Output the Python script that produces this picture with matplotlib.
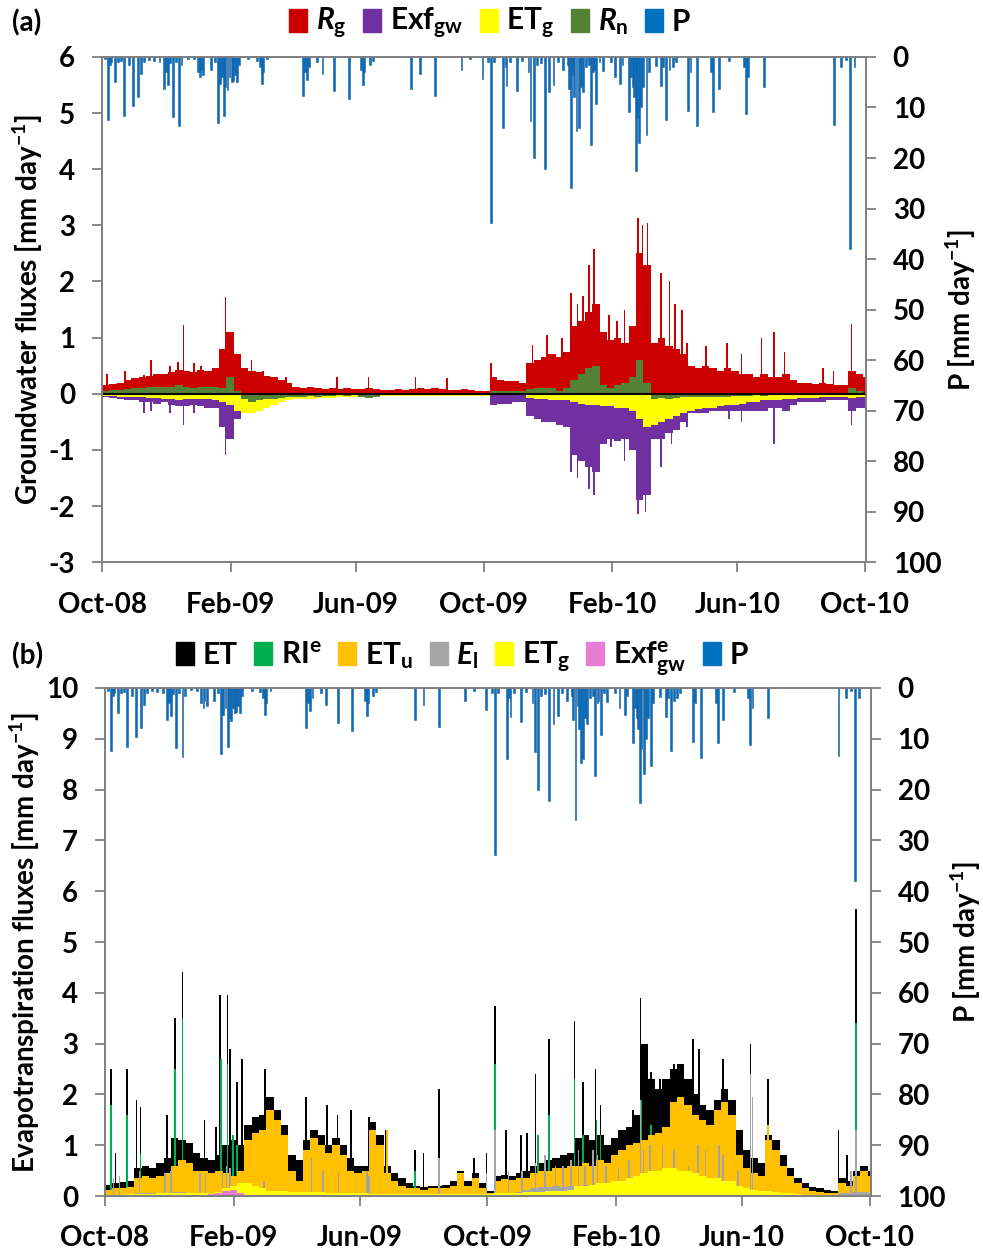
import numpy as np
import matplotlib
matplotlib.use("Agg")
import matplotlib.pyplot as plt
import matplotlib.dates as mdates
from matplotlib.patches import Patch

plt.rcParams['font.family'] = ['Lato', 'DejaVu Sans']
plt.rcParams['font.weight'] = 'bold'
plt.rcParams['axes.unicode_minus'] = False
plt.rcParams['mathtext.fontset'] = 'custom'
plt.rcParams['mathtext.rm'] = 'Lato:bold'
plt.rcParams['mathtext.it'] = 'Lato:italic:bold'
plt.rcParams['mathtext.bf'] = 'Lato:bold'

start = np.datetime64('2008-10-01')

# ---- precipitation events (day since 1 Oct 2008, mm/day) ----
p_day = [3, 6, 8, 9, 12, 15, 18, 21, 26, 30, 34, 37, 40, 45, 50, 55, 59, 61, 63, 65, 68, 71, 74, 76,
         82, 88, 92, 94, 95, 97, 104, 108, 111, 113, 115, 117, 118, 120, 122, 124, 125, 127, 129, 131,
         140, 148, 151, 153, 154, 158, 192, 194, 196, 198, 206, 211, 222, 236, 248, 250, 251, 256, 259,
         296, 304, 319, 344, 352, 364, 369, 372, 375, 384, 386, 387, 390, 397, 402, 408, 410, 413, 416,
         420, 424, 428, 432, 436, 441, 446, 447, 449, 451, 452, 454, 456, 458, 460, 463, 466, 468, 470,
         471, 473, 476, 479, 487, 491, 496, 498, 504, 506, 508, 509, 511, 512, 514, 516, 518, 521, 523,
         530, 535, 537, 540, 543, 546, 549, 561, 563, 569, 583, 585, 590, 600, 614, 616, 618, 633, 700,
         707, 712, 716, 720]
p_mm = [0.5, 12.5, 1.5, 1.0, 4.9, 1.0, 0.8, 11.7, 1.5, 9.7, 7.9, 3.3, 1.0, 0.6, 0.8, 1.0, 6.4, 3.0, 5.6, 1.2,
        11.9, 1.0, 13.6, 1.5, 0.4, 0.5, 3.0, 4.0, 2.5, 3.5, 2.5, 1.0, 13.0, 5.4, 4.0, 11.7, 6.0, 6.5, 4.0,
        5.0, 4.8, 3.6, 5.0, 1.5, 0.5, 0.8, 2.0, 5.4, 3.0, 0.5, 7.8, 3.0, 4.6, 2.0, 1.0, 3.3, 6.8, 8.4, 2.5,
        5.5, 3.0, 1.5, 0.8, 6.4, 3.3, 7.7, 2.6, 0.5, 4.4, 1.0, 32.9, 1.0, 14.0, 2.0, 5.7, 1.0, 6.7, 0.8,
        3.0, 12.6, 20.0, 1.5, 1.2, 22.2, 7.0, 5.6, 1.0, 2.6, 1.5, 6.4, 26.0, 3.5, 8.0, 14.7, 14.0, 6.0,
        7.0, 2.0, 1.5, 17.4, 3.0, 2.5, 9.3, 1.0, 2.8, 1.0, 4.0, 5.4, 1.5, 10.8, 4.0, 6.0, 8.0, 22.6, 12.0,
        17.0, 10.0, 6.0, 15.4, 3.0, 1.8, 5.7, 2.0, 12.4, 2.5, 2.0, 1.0, 10.7, 3.0, 13.7, 3.0, 10.8, 6.4,
        0.8, 2.0, 11.2, 4.0, 6.0, 13.4, 2.0, 0.6, 38.0, 2.0]

# ---- panel (a): weekly groundwater fluxes (mm/day), week 0 starts 1 Oct 2008 ----
rg = [0.15, 0.18, 0.2, 0.25, 0.28, 0.3, 0.32, 0.35, 0.35, 0.38, 0.42, 0.4, 0.38, 0.42, 0.4, 0.45,
      0.8, 1.1, 0.7, 0.45, 0.4, 0.38, 0.32, 0.3, 0.25, 0.2,
      0.12, 0.1, 0.12, 0.1, 0.08, 0.1, 0.08, 0.1, 0.08, 0.08, 0.1, 0.08, 0.06, 0.06, 0.08, 0.06, 0.08,
      0.1, 0.08, 0.1, 0.08, 0.06, 0.06, 0.08, 0.06, 0.05, 0.05,
      0.3, 0.25, 0.22, 0.22, 0.2, 0.55, 0.6, 0.65, 0.7, 0.65, 0.75, 1.2, 1.3, 1.45, 1.6,
      1.1, 0.95, 1.0, 0.9, 1.2, 2.5, 2.3, 0.9, 1.0, 0.85, 0.8, 0.7,
      0.5, 0.45, 0.5, 0.45, 0.4, 0.45, 0.4, 0.35, 0.35, 0.3, 0.35, 0.3, 0.3, 0.35, 0.25,
      0.2, 0.2, 0.18, 0.2, 0.18, 0.15, 0.15, 0.4, 0.35, 0.3]
exf = [0.06, 0.08, 0.1, 0.12, 0.12, 0.15, 0.15, 0.18, 0.15, 0.2, 0.22, 0.22, 0.2, 0.22, 0.25, 0.25,
       0.6, 0.8, 0.45, 0.3, 0.25, 0.2, 0.15, 0.1, 0.08, 0.06,
       0.05, 0.04, 0.05, 0.04, 0.03, 0.04, 0.03, 0.04, 0.03, 0.03, 0.04, 0.03, 0.03, 0.03, 0.03, 0.03,
       0.04, 0.03, 0.03, 0.04, 0.03, 0.03, 0.03, 0.03, 0.03, 0.03, 0.03,
       0.2, 0.18, 0.18, 0.15, 0.15, 0.4, 0.45, 0.5, 0.5, 0.55, 0.6, 1.1, 1.2, 1.3, 1.4,
       0.9, 0.8, 0.85, 0.8, 1.0, 1.9, 1.8, 0.8, 0.8, 0.7, 0.65, 0.5,
       0.35, 0.35, 0.35, 0.3, 0.3, 0.3, 0.3, 0.3, 0.3, 0.3, 0.3, 0.25, 0.25, 0.3, 0.2,
       0.15, 0.15, 0.15, 0.15, 0.12, 0.12, 0.12, 0.3, 0.25, 0.25]
etg_a = [0.04, 0.04, 0.05, 0.05, 0.06, 0.06, 0.08, 0.08, 0.1, 0.1, 0.12, 0.1, 0.1, 0.1, 0.1, 0.12,
         0.15, 0.2, 0.3, 0.35, 0.35, 0.3, 0.25, 0.2, 0.15, 0.12,
         0.1, 0.1, 0.1, 0.08, 0.08, 0.08, 0.06, 0.06, 0.06, 0.05,
         0.04, 0.04, 0.04, 0.04, 0.04, 0.04, 0.04, 0.04, 0.04, 0.04, 0.04, 0.04, 0.04, 0.04, 0.04, 0.04, 0.04,
         0.03, 0.03, 0.03, 0.03, 0.03, 0.08, 0.1, 0.1, 0.12, 0.12, 0.12,
         0.15, 0.18, 0.2, 0.2, 0.22, 0.22, 0.25, 0.25, 0.3, 0.45, 0.6, 0.55, 0.5, 0.45, 0.4, 0.35,
         0.3, 0.28, 0.25, 0.25, 0.22, 0.2, 0.2, 0.18,
         0.15, 0.15, 0.12, 0.12, 0.12, 0.1, 0.1, 0.08, 0.08, 0.08, 0.06, 0.06, 0.06, 0.05, 0.08, 0.06, 0.05]
rn = [0.05, 0.06, 0.07, 0.08, 0.1, 0.1, 0.12, 0.12, 0.12, 0.12, 0.15, 0.12, 0.1, 0.12, 0.12, 0.12,
      0.1, 0.3, 0.05, -0.1, -0.15, -0.12, -0.1, -0.1, -0.08, -0.06,
      -0.05, -0.05, -0.04, -0.05, -0.04, -0.04, -0.03, -0.04, -0.03, -0.05, -0.08, -0.06, -0.03, -0.03,
      -0.03, -0.02, -0.03, -0.02, -0.02, -0.03, -0.02, -0.02, -0.02, -0.02, -0.02, -0.02, -0.02,
      0.05, 0.05, 0.05, 0.05, 0.05, 0.08, 0.1, 0.1, 0.1, 0.05, 0.1, 0.25, 0.35, 0.45, 0.5,
      0.15, 0.1, 0.15, 0.2, 0.3, 0.6, 0.2,
      -0.1, -0.08, -0.1, -0.08, -0.05, -0.06, -0.05, -0.06, -0.05, -0.05, -0.05, -0.04, -0.04,
      -0.04, -0.03, -0.04, -0.03, -0.03, -0.03, -0.03, -0.03, -0.02, -0.02, -0.02, -0.02, -0.02, -0.02,
      0.1, 0.05, 0.02]

# daily peaks standing out of the weekly envelope
rg_peak_day = [5, 22, 40, 47, 65, 73, 78, 88, 95, 108, 118, 143, 154, 176, 225, 255, 300, 330,
               372, 412, 426, 440, 449, 455, 460, 466, 471, 485, 493, 500, 513, 517, 522, 535, 543,
               548, 555, 560, 578, 598, 612, 631, 643, 653, 690, 700, 717]
rg_peak = [0.35, 0.4, 0.33, 0.6, 0.5, 0.57, 1.23, 0.55, 0.5, 0.4, 1.72, 0.6, 0.4, 0.3, 0.3, 0.3, 0.3, 0.28,
           0.54, 0.87, 1.05, 1.0, 1.8, 1.6, 1.75, 2.3, 2.57, 1.4, 1.3, 1.5, 3.13, 3.0, 3.05, 2.15, 2.0,
           1.6, 1.5, 0.9, 0.85, 0.9, 0.7, 1.0, 1.1, 0.75, 0.45, 0.4, 1.24]
exf_peak_day = [40, 47, 65, 78, 88, 98, 118, 449, 455, 466, 471, 476, 487, 500, 513, 520, 535, 545,
                560, 600, 612, 643, 717]
exf_peak = [0.35, 0.3, 0.35, 0.56, 0.35, 0.25, 1.1, 1.4, 1.5, 1.7, 1.8, 1.2, 0.95, 1.2, 2.15, 2.1, 1.3, 0.9,
            0.6, 0.45, 0.5, 0.9, 0.55]

# ---- panel (b): weekly evapotranspiration fluxes (mm/day) ----
et = [0.22, 0.25, 0.28, 0.3, 0.55, 0.6, 0.55, 0.65, 0.75,
      1.15, 1.1, 1.05, 0.85, 0.75, 0.7, 0.8, 1.0, 1.1, 1.0,
      1.4, 1.55, 1.6, 1.95, 1.7, 1.4, 0.8, 0.7,
      1.1, 1.3, 1.2, 1.0, 1.15, 1.0, 0.75, 0.6, 0.6, 1.45, 1.2,
      0.6, 0.45, 0.35, 0.25, 0.2, 0.18, 0.2, 0.2, 0.22, 0.3, 0.5, 0.3, 0.45, 0.25, 0.1,
      0.4, 0.42, 0.4, 0.45, 0.5, 0.6, 0.65, 0.7, 0.75, 0.8, 0.85,
      1.15, 1.2, 1.1, 1.2, 1.0, 1.15, 1.3, 1.35, 1.6,
      3.0, 2.3, 2.1, 2.3, 2.5, 2.6, 2.3, 2.0, 1.8, 1.7, 1.9, 2.1, 1.9,
      1.3, 0.9, 0.75, 0.65, 1.2, 1.1, 0.8, 0.55, 0.35,
      0.25, 0.18, 0.15, 0.12, 0.1, 0.35, 0.3, 0.5, 0.6, 0.5]
etu = [0.12, 0.15, 0.15, 0.18, 0.35, 0.4, 0.35, 0.4, 0.45,
       0.6, 0.7, 0.65, 0.5, 0.5, 0.45, 0.5, 0.45, 0.4, 0.5,
       1.1, 1.25, 1.3, 1.7, 1.5, 1.2, 0.5, 0.3,
       0.9, 1.15, 1.0, 0.85, 1.0, 0.8, 0.5, 0.45, 0.5, 1.3, 1.0,
       0.45, 0.3, 0.2, 0.15, 0.15, 0.12, 0.15, 0.15, 0.15, 0.2, 0.45, 0.2, 0.35, 0.15, 0.05,
       0.3, 0.33, 0.32, 0.35, 0.35, 0.45, 0.5, 0.5, 0.55, 0.55, 0.6,
       0.6, 0.65, 0.6, 0.7, 0.65, 0.8, 0.9, 1.0, 1.05,
       1.1, 1.2, 1.25, 1.35, 1.85, 1.95, 1.8, 1.6, 1.5, 1.4, 1.7, 1.85, 1.6,
       0.8, 0.55, 0.45, 0.4, 1.1, 0.9, 0.6, 0.4, 0.25,
       0.15, 0.1, 0.08, 0.06, 0.05, 0.25, 0.2, 0.4, 0.5, 0.4]
el = [0.02, 0.03, 0.03, 0.03, 0.05, 0.05, 0.05, 0.06, 0.06, 0.08, 0.08, 0.06, 0.06, 0.05, 0.05, 0.06,
      0.08, 0.1, 0.08, 0.05, 0.05, 0.05, 0.05, 0.04, 0.04, 0.03,
      0.04, 0.05, 0.05, 0.04, 0.04, 0.04, 0.03, 0.03, 0.03, 0.04, 0.04, 0.03, 0.02, 0.02,
      0.02, 0.02, 0.02, 0.02, 0.02, 0.02, 0.02, 0.02, 0.02, 0.02, 0.02, 0.02, 0.02,
      0.05, 0.06, 0.06, 0.08, 0.12, 0.15, 0.18, 0.18, 0.2, 0.18, 0.2, 0.2, 0.22, 0.2, 0.2, 0.18, 0.18, 0.15, 0.15, 0.15,
      0.15, 0.15, 0.12, 0.12, 0.12, 0.12, 0.1, 0.1, 0.1, 0.1, 0.1, 0.08, 0.08,
      0.06, 0.05, 0.04, 0.04, 0.04, 0.04, 0.03, 0.03, 0.03,
      0.02, 0.02, 0.02, 0.02, 0.02, 0.05, 0.05, 0.08, 0.08, 0.06]
etg_b = [0.03, 0.03, 0.03, 0.04, 0.04, 0.04, 0.04, 0.05, 0.05, 0.05, 0.05, 0.05, 0.05, 0.06, 0.06, 0.08,
         0.15, 0.2, 0.25, 0.25, 0.2, 0.15,
         0.1, 0.1, 0.1, 0.08, 0.08, 0.08, 0.08, 0.08, 0.06, 0.06, 0.06, 0.06, 0.05, 0.05,
         0.04, 0.04, 0.04, 0.04, 0.04, 0.04, 0.04, 0.04, 0.04, 0.04, 0.04, 0.04, 0.04, 0.04, 0.04, 0.04, 0.04,
         0.05, 0.05, 0.06, 0.06, 0.07, 0.08, 0.08, 0.09, 0.1, 0.1, 0.12,
         0.2, 0.2, 0.22, 0.25, 0.25, 0.3, 0.3, 0.35, 0.4,
         0.45, 0.5, 0.5, 0.55, 0.55, 0.5, 0.5,
         0.45, 0.4, 0.35, 0.35, 0.3, 0.3,
         0.2, 0.15, 0.12, 0.1, 0.1, 0.08, 0.06, 0.05, 0.04,
         0.03, 0.03, 0.03, 0.03, 0.03, 0.03, 0.03, 0.03, 0.03, 0.03]
exf_e = [0.01, 0.01, 0.01, 0.01, 0.01, 0.02, 0.02, 0.02, 0.03, 0.03, 0.03, 0.03, 0.03, 0.03, 0.04, 0.05,
         0.1, 0.12, 0.05, 0.02, 0.02, 0.01, 0.01, 0.01, 0.01, 0.01,
         0.01, 0.01, 0.01, 0.01, 0.01, 0.01, 0.01, 0.01, 0.01, 0.01, 0.01, 0.01, 0.01, 0.01,
         0.01, 0.01, 0.01, 0.01, 0.01, 0.01, 0.01, 0.01, 0.01, 0.01, 0.01, 0.01, 0.01,
         0.01, 0.01, 0.01, 0.01, 0.01, 0.01, 0.01, 0.01, 0.01, 0.01, 0.01, 0.01, 0.01, 0.01, 0.01, 0.01,
         0.01, 0.01, 0.01, 0.01, 0.01, 0.01, 0.01, 0.01, 0.01, 0.01, 0.01, 0.01, 0.01, 0.01, 0.01, 0.01,
         0.01, 0.01, 0.01, 0.01, 0.01, 0.01, 0.01, 0.01, 0.01, 0.01, 0.01, 0.01, 0.01, 0.01, 0.01, 0.01,
         0.01, 0.01, 0.01, 0.01]

et_peak_day = [6, 10, 21, 30, 34, 59, 67, 74, 95, 106, 110, 117, 119, 126, 131, 153, 192, 212, 222, 235,
               252, 268, 296, 304, 319, 352, 364, 372, 383, 397, 403, 411, 424, 448, 456, 468, 473, 504,
               511, 521, 530, 543, 561, 567, 590, 616, 633, 700, 708, 717]
et_peak = [2.5, 0.85, 2.5, 1.9, 1.75, 1.6, 3.5, 4.4, 1.5, 1.35, 3.95, 3.95, 2.9, 2.25, 2.7, 2.5, 1.95, 1.8,
           1.6, 1.7, 1.55, 1.3, 0.9, 0.85, 2.1, 0.75, 0.85, 3.75, 1.3, 1.2, 1.25, 2.4, 3.1, 3.45, 2.25,
           2.5, 1.8, 1.7, 3.9, 2.45, 2.3, 2.6, 3.1, 2.9, 2.7, 3.0, 2.3, 1.3, 0.8, 5.65]
ri_day = [6, 21, 34, 67, 74, 111, 117, 122, 126, 296, 364, 372, 413, 424, 448, 456, 469, 473, 512, 521, 717]
ri = [1.8, 1.6, 0.85, 2.5, 3.5, 2.7, 2.6, 1.2, 1.0, 0.5, 0.3, 2.6, 1.2, 1.6, 2.3, 1.2, 1.5, 1.2, 1.9, 1.4, 3.4]
etu_peak_day = [269, 633]
etu_peak = [1.3, 1.4]
el_peak_day = [8, 14, 33, 57, 63, 91, 96, 112, 116, 119, 152, 197, 208, 223, 250, 252, 319, 364,
               372, 385, 398, 411, 420, 430, 437, 445, 452, 458, 466, 470, 478, 490, 500, 511, 514, 520,
               532, 543, 557, 566, 573, 586, 590, 604, 616, 618, 712, 717]
el_peak = [0.35, 0.4, 0.5, 0.45, 0.5, 0.45, 0.45, 0.5, 0.6, 0.55, 0.3, 0.75, 0.5, 0.45, 0.5, 0.4, 0.75, 0.45,
           1.3, 0.5, 0.5, 0.65, 0.8, 0.6, 0.6, 0.7, 0.9, 0.6, 0.9, 0.8, 0.6, 0.55, 0.7, 1.9, 0.9, 1.0,
           1.0, 0.9, 0.6, 1.0, 0.9, 1.0, 0.8, 0.5, 2.4, 1.95, 0.5, 1.3]


def to_num(days):
    return mdates.date2num(start + np.array(days, dtype='timedelta64[D]'))


week_x = to_num(np.arange(len(rg)) * 7)
p_x = to_num(p_day)

c_rg, c_exf, c_etg, c_rn, c_p = '#CC0000', '#7030A0', '#FFFF00', '#548235', '#0070C0'
c_et, c_ri, c_etu, c_el, c_exfe = '#000000', '#00B050', '#FFC000', '#A5A5A5', '#E77ED3'
spine_c = '#808080'
fs = 20
lfs = 20

fig = plt.figure(figsize=(9.83, 12.52), dpi=100)


def style_axes(ax, ax2):
    for a in (ax, ax2):
        for s in a.spines.values():
            s.set_color(spine_c)
            s.set_linewidth(1.3)
        a.tick_params(axis='both', colors=spine_c, labelcolor='black', labelsize=fs,
                      length=7.2, width=1.3, direction='out', pad=12)
    ax.set_xlim(mdates.date2num(np.datetime64('2008-10-01')), mdates.date2num(np.datetime64('2010-10-02')))
    ax.xaxis.set_major_locator(mdates.MonthLocator(bymonth=[2, 6, 10]))
    ax.xaxis.set_major_formatter(mdates.DateFormatter('%b-%y'))
    ax.tick_params(axis='x', pad=14)
    ax2.set_ylim(100, 0)
    ax2.set_yticks(np.arange(0, 101, 10))
    ax2.set_ylabel('P [mm day$^{-1}$]', fontsize=lfs, fontweight='bold', labelpad=2)


# ---------------- panel (a) ----------------
ax = fig.add_axes([0.1038, 0.551, 0.7772, 0.4035])
ax.bar(week_x, rg, width=7, align='edge', color=c_rg, lw=0)
ax.bar(to_num(rg_peak_day), rg_peak, width=1.6, color=c_rg, lw=0)
ax.bar(week_x, -np.array(exf), width=7, align='edge', color=c_exf, lw=0)
ax.bar(to_num(exf_peak_day), -np.array(exf_peak), width=1.6, color=c_exf, lw=0)
ax.bar(week_x, -np.array(etg_a), width=7, align='edge', color=c_etg, lw=0)
ax.bar(week_x, rn, width=7, align='edge', color=c_rn, lw=0)
ax.axhline(0, color='black', lw=1.5)
ax.set_ylim(-3, 6)
ax.set_yticks(np.arange(-3, 7, 1))
ax.set_ylabel('Groundwater fluxes [mm day$^{-1}$]', fontsize=lfs, fontweight='bold', labelpad=3)
ax2 = ax.twinx()
ax2.bar(p_x, p_mm, width=1.8, color=c_p, edgecolor='#1F5A9A', lw=0.4)
style_axes(ax, ax2)

fig.text(0.012, 0.982, '(a)', fontsize=fs, fontweight='bold', va='center')
leg_a = [Patch(color=c_rg), Patch(color=c_exf), Patch(color=c_etg), Patch(color=c_rn), Patch(color=c_p)]
fig.legend(leg_a, [r'$\mathit{R}_\mathrm{g}$', r'Exf$_\mathrm{gw}$', r'ET$_\mathrm{g}$',
                   r'$\mathit{R}_\mathrm{n}$', 'P'],
           loc='center', bbox_to_anchor=(0.498, 0.981), ncol=5, frameon=False, fontsize=21.5,
           handlelength=0.6, handleheight=0.8, handletextpad=0.3, columnspacing=0.55)

# ---------------- panel (b) ----------------
bx = fig.add_axes([0.1068, 0.0447, 0.7792, 0.4058])
bx.bar(week_x, et, width=7, align='edge', color=c_et, lw=0)
bx.bar(to_num(et_peak_day), et_peak, width=1.6, color=c_et, lw=0)
bx.bar(to_num(ri_day), ri, width=1.6, color=c_ri, lw=0)
bx.bar(week_x, etu, width=7, align='edge', color=c_etu, lw=0)
bx.bar(to_num(etu_peak_day), etu_peak, width=1.6, color=c_etu, lw=0)
bx.bar(week_x, el, width=7, align='edge', color=c_el, lw=0)
bx.bar(to_num(el_peak_day), el_peak, width=1.6, color=c_el, lw=0)
bx.bar(week_x, etg_b, width=7, align='edge', color=c_etg, lw=0)
bx.bar(week_x, exf_e, width=7, align='edge', color=c_exfe, lw=0)
bx.set_ylim(0, 10)
bx.set_yticks(np.arange(0, 11, 1))
bx.set_ylabel('Evapotranspiration fluxes [mm day$^{-1}$]', fontsize=lfs, fontweight='bold', labelpad=3)
bx2 = bx.twinx()
bx2.bar(p_x, p_mm, width=1.8, color=c_p, edgecolor='#1F5A9A', lw=0.4)
style_axes(bx, bx2)

fig.text(0.012, 0.476, '(b)', fontsize=fs, fontweight='bold', va='center')
leg_b = [Patch(color=c_et), Patch(color=c_ri), Patch(color=c_etu), Patch(color=c_el),
         Patch(color=c_etg), Patch(color=c_exfe), Patch(color=c_p)]
fig.legend(leg_b, ['ET', r'RI$^\mathrm{e}$', r'ET$_\mathrm{u}$', r'$\mathit{E}_\mathrm{l}$',
                   r'ET$_\mathrm{g}$', r'Exf$^\mathrm{e}_\mathrm{gw}$', 'P'],
           loc='center', bbox_to_anchor=(0.47, 0.474), ncol=7, frameon=False, fontsize=21.5,
           handlelength=0.6, handleheight=0.8, handletextpad=0.3, columnspacing=0.55)

fig.savefig('out.png', dpi=100)
